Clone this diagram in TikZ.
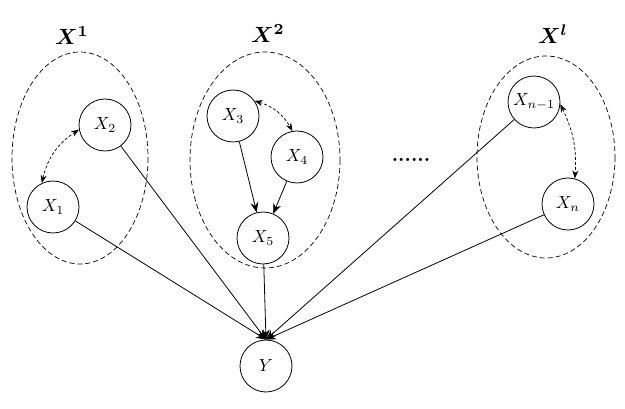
\documentclass[tikz,border=0pt]{standalone}
\usepackage{graphicx}
\usepackage{bm}
\usetikzlibrary{arrows.meta}
\newcommand{\myvar}[1]{\scalebox{1.75}{$#1$}}
\newcommand{\mygrp}[1]{\scalebox{2.2}{$#1$}}
\begin{document}
\begin{tikzpicture}[x=1pt,y=-1pt,
  var/.style={circle,draw,line width=0.8pt,minimum size=52pt,inner sep=0pt},
  grp/.style={draw,dashed,line width=0.7pt,dash pattern=on 5pt off 3pt},
  lbl/.style={},
  arr/.style={-{Stealth[length=10pt,width=8pt]},line width=0.8pt},
  darr/.style={{Stealth[length=8pt,width=6pt]}-{Stealth[length=8pt,width=6pt]},dashed,line width=0.7pt,dash pattern=on 3pt off 2pt}]
\useasboundingbox (0,0) rectangle (625,409);
\draw[grp] (80,158) ellipse [x radius=68,y radius=106];
\draw[grp] (265,160) ellipse [x radius=75,y radius=108];
\draw[grp] (546,157) ellipse [x radius=69,y radius=101];
\node[lbl] (L1) at (72,36) {\mygrp{\bm{X^{1}}}};
\node[lbl] (L2) at (268,34) {\mygrp{\bm{X^{2}}}};
\node[lbl] (L3) at (553,34) {\mygrp{\bm{X^{l}}}};
\node[var] (x1) at (53,207) {\myvar{X_1}};
\node[var] (x2) at (105,125) {\myvar{X_2}};
\node[var] (x3) at (233,116) {\myvar{X_3}};
\node[var] (x4) at (297,157) {\myvar{X_4}};
\node[var] (x5) at (263,238) {\myvar{X_5}};
\node[var] (xn1) at (534,102) {\myvar{X_{n-1}}};
\node[var] (xn) at (568,204) {\myvar{X_n}};
\node[var] (y) at (266,366) {\myvar{Y}};
\node (dots) at (411,160) {\scalebox{2}{\textbf{......}}};
\draw[arr] (x3) -- (x5);
\draw[arr] (x4) -- (x5);
\draw[arr] (x1) -- (y.north);
\draw[arr] (x2) -- (y.north);
\draw[arr] (x5) -- (y.north);
\draw[arr] (xn1) -- (y.north);
\draw[arr] (xn) -- (y.north);
\draw[darr] (x1.115) to[bend left=22] (x2.190);
\draw[darr] (x3.35) to[bend left=22] (x4.100);
\draw[darr] (xn1.355) to[bend left=15] (xn.75);
\end{tikzpicture}
\end{document}
